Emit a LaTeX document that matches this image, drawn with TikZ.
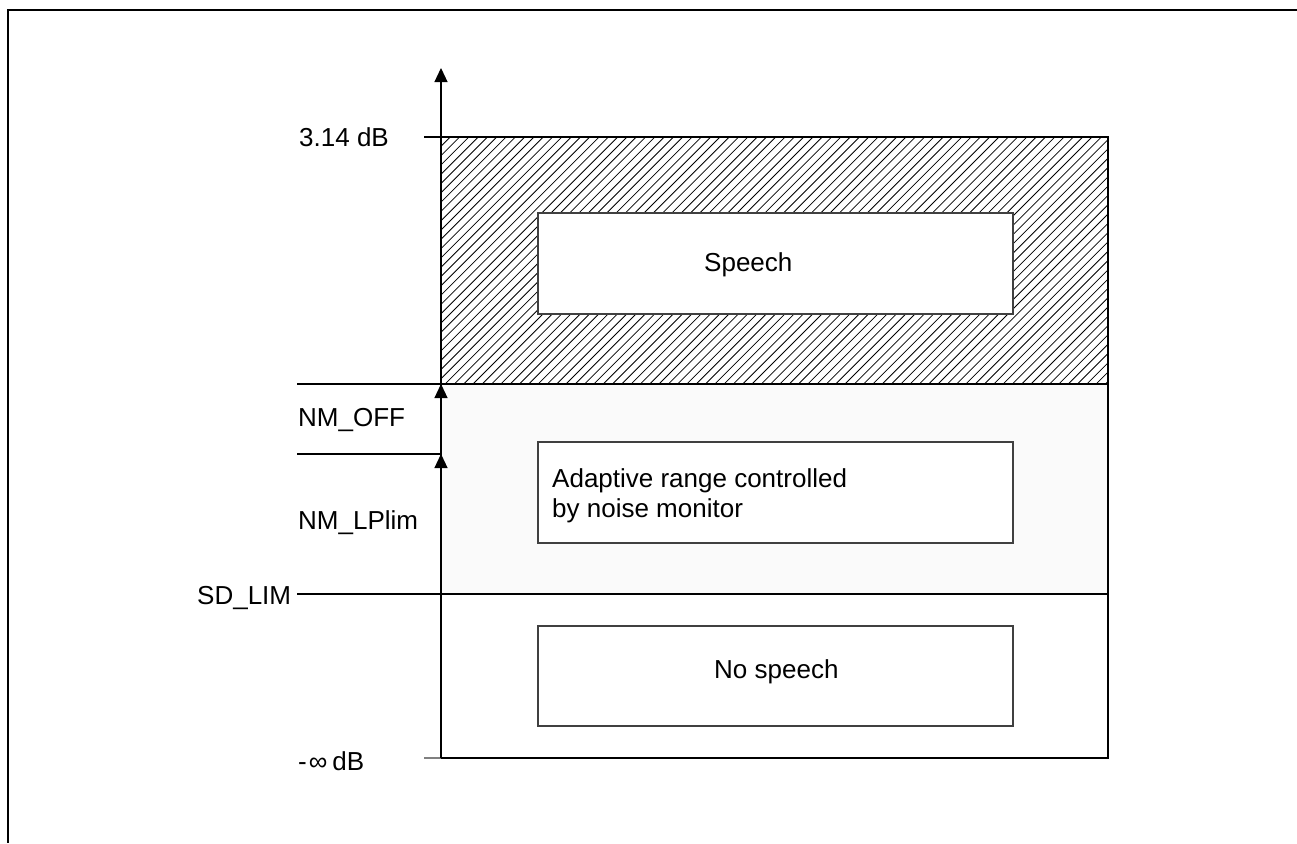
\documentclass[tikz,border=0pt]{standalone}
\usepackage{fontspec}
\setmainfont{Liberation Sans}
\usetikzlibrary{arrows.meta}
\definecolor{bandgray}{HTML}{FAFAFA}
\definecolor{boxedge}{HTML}{404040}
\tikzset{
  lbl/.style={anchor=base west, inner sep=0pt, font=\fontsize{26}{30}\selectfont},
  band/.style={draw=black, line width=1.3pt},
  inbox/.style={draw=boxedge, line width=1.3pt, fill=white},
  lvl/.style={draw=black, line width=1.2pt},
  uparrow/.style={line width=1.2pt, -{Triangle[length=14pt,width=13pt]}},
  hatch/.style={line width=0.8pt},
  frame/.style={line width=2pt}
}
\begin{document}
\begin{tikzpicture}[x=1pt,y=-1pt]
\useasboundingbox (0,0) rectangle (1297,843);
% outer frame
\draw[frame] (1297,10) -- (8,10) -- (8,843);
% bands
\fill[bandgray] (441,384) rectangle (1108,594);
\begin{scope}
  \clip (441,137) rectangle (1108,384);
  \foreach \i in {0,...,100} {
    \draw[hatch] ({194+\i*9.3},384) -- ++(247,-247);
  }
\end{scope}
\draw[band] (441,137) rectangle (1108,384);
\draw[band] (441,384) rectangle (1108,594);
\draw[band] (441,594) rectangle (1108,758);
% inner boxes
\draw[inbox] (538,213) rectangle (1013,314);
\draw[inbox] (538,442) rectangle (1013,543);
\draw[inbox] (538,626) rectangle (1013,726);
\node[lbl] (speech) at (704,271) {Speech};
\node[lbl, align=left] (adapt) at (552,517) {Adaptive range controlled\\by noise monitor};
\node[lbl] (nospeech) at (714,678) {No speech};
% level coordinates
\coordinate (ax0) at (441,758);
\coordinate (axsd) at (441,594);
\coordinate (axlp) at (441,454);
\coordinate (axoff) at (441,384);
\coordinate (axtop) at (441,68);
\coordinate (t314) at (424,137);
\coordinate (a314) at (441,137);
\coordinate (tinf) at (424,758);
\coordinate (loff) at (297,384);
\coordinate (llp) at (297,454);
\coordinate (lsd) at (297,594);
% level lines
\draw[lvl] (t314) -- (a314);
\draw[lvl, draw=gray] (tinf) -- (ax0);
\draw[lvl] (loff) -- (axoff);
\draw[lvl] (llp) -- (axlp);
\draw[lvl] (lsd) -- (axsd);
% axis with arrows
\draw[uparrow] (ax0) -- (axlp);
\draw[uparrow] (axlp) -- (axoff);
\draw[uparrow] (axoff) -- (axtop);
% labels
\node[lbl] (l314) at (299,146) {3.14 dB};
\node[lbl] (lnmoff) at (298,426) {NM\_OFF};
\node[lbl] (lnmlp) at (298,529) {NM\_LPlim};
\node[lbl] (lsdlim) at (197,604) {SD\_LIM};
\node[lbl] (linf) at (298,770) {-\hspace{2pt}∞\hspace{5pt}dB};
\end{tikzpicture}
\end{document}
